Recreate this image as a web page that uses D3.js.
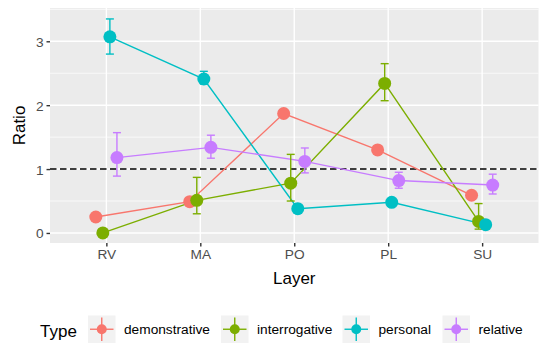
<!DOCTYPE html>
<html>
<head>
<meta charset="utf-8">
<script src="https://cdn.jsdelivr.net/npm/d3@7"></script>
<style>
  html, body { margin: 0; padding: 0; background: #fff; }
  svg { display: block; font-family: "Liberation Sans", Arial, sans-serif; }
</style>
</head>
<body>
<svg id="chart" width="548" height="343"></svg>
<script>
// Layers along the x axis
const layers = ["RV", "MA", "PO", "PL", "SU"];
// Pronoun types (legend order)
const types = ["demonstrative", "interrogative", "personal", "relative"];
const typeColors = ["#F8766D", "#7CAE00", "#00BFC4", "#C77CFF"];

// Mean ratio per layer, one array per type
const demonstrative = [0.25, 0.49, 1.87, 1.30, 0.59];
const interrogative = [0.00, 0.51, 0.78, 2.34, 0.18];
const personal      = [3.07, 2.41, 0.38, 0.48, 0.13];
const relative      = [1.18, 1.34, 1.12, 0.82, 0.75];

// Error bar bounds (null where no interval is shown)
const demonstrativeLow  = [null, null, null, null, null];
const demonstrativeHigh = [null, null, null, null, null];
const interrogativeLow  = [null, 0.30, 0.50, 2.07, 0.06];
const interrogativeHigh = [null, 0.87, 1.23, 2.65, 0.46];
const personalLow       = [2.80, 2.33, null, null, null];
const personalHigh      = [3.35, 2.53, null, null, null];
const relativeLow       = [0.89, 1.17, 0.94, 0.70, 0.61];
const relativeHigh      = [1.57, 1.53, 1.33, 0.95, 0.92];

const yTicks = [0, 1, 2, 3];
const yMinor = [0.5, 1.5, 2.5, 3.5];
const refLine = 1;

const series = [
  { type: types[0], color: typeColors[0], values: demonstrative, low: demonstrativeLow, high: demonstrativeHigh },
  { type: types[1], color: typeColors[1], values: interrogative, low: interrogativeLow, high: interrogativeHigh },
  { type: types[2], color: typeColors[2], values: personal,      low: personalLow,      high: personalHigh },
  { type: types[3], color: typeColors[3], values: relative,      low: relativeLow,      high: relativeHigh }
];

const svg = d3.select("#chart");
const panel = { left: 50, right: 538.5, top: 8, bottom: 243 };
const lw = 1.4;

// Discrete x positions with 0.6 unit padding on each side
const x = d3.scalePoint().domain(layers)
  .range([panel.left, panel.right]).padding(0.6);
const step = x.step();
const dodgeWidth = 0.3 * step;
const dodge = d3.scaleBand().domain(types).range([-dodgeWidth / 2, dodgeWidth / 2]);
const xd = (layer, type) => x(layer) + dodge(type) + dodge.bandwidth() / 2;

// y domain: data range plus 5% expansion
const yLo = 0.01, yHi = 3.354, pad = (yHi - yLo) * 0.05;
const y = d3.scaleLinear().domain([yLo - pad, yHi + pad]).range([panel.bottom, panel.top]);

// Panel background
svg.append("rect")
  .attr("x", panel.left).attr("y", panel.top)
  .attr("width", panel.right - panel.left).attr("height", panel.bottom - panel.top)
  .attr("fill", "#EBEBEB");

const grid = svg.append("g");
grid.selectAll("line.minor").data(yMinor.filter(v => y(v) >= panel.top)).join("line")
  .attr("x1", panel.left).attr("x2", panel.right)
  .attr("y1", d => y(d)).attr("y2", d => y(d))
  .attr("stroke", "#fff").attr("stroke-width", 0.7);
grid.selectAll("line.majy").data(yTicks).join("line")
  .attr("x1", panel.left).attr("x2", panel.right)
  .attr("y1", d => y(d)).attr("y2", d => y(d))
  .attr("stroke", "#fff").attr("stroke-width", lw);
grid.selectAll("line.majx").data(layers).join("line")
  .attr("x1", d => x(d)).attr("x2", d => x(d))
  .attr("y1", panel.top).attr("y2", panel.bottom)
  .attr("stroke", "#fff").attr("stroke-width", lw);

// Axes
const yAxis = d3.axisLeft(y).tickValues(yTicks).tickSize(3.5).tickPadding(3).tickFormat(d3.format("d"));
const xAxis = d3.axisBottom(x).tickSize(3.5).tickPadding(3);

const gy = svg.append("g").attr("transform", `translate(${panel.left},0)`).call(yAxis);
const gx = svg.append("g").attr("transform", `translate(0,${panel.bottom})`).call(xAxis);
[gx, gy].forEach(g => {
  g.select(".domain").remove();
  g.selectAll(".tick line").attr("stroke", "#333").attr("stroke-width", lw);
  g.selectAll(".tick text").attr("fill", "#4D4D4D").attr("font-size", 13.7)
    .attr("font-family", "Liberation Sans, Arial, sans-serif");
});
gy.selectAll(".tick text").attr("dy", "0.36em");

// Axis titles
svg.append("text").attr("x", (panel.left + panel.right) / 2).attr("y", 284)
  .attr("text-anchor", "middle").attr("font-size", 17).attr("fill", "#000").text("Layer");
svg.append("text").attr("transform", `translate(25,${(panel.top + panel.bottom) / 2}) rotate(-90)`)
  .attr("text-anchor", "middle").attr("font-size", 17).attr("fill", "#000").text("Ratio");

// Reference line at ratio 1
svg.append("line")
  .attr("x1", panel.left).attr("x2", panel.right)
  .attr("y1", y(refLine)).attr("y2", y(refLine))
  .attr("stroke", "#000").attr("stroke-width", lw).attr("stroke-dasharray", "6.5,3.5");

const marks = svg.append("g");
const line = d3.line();

// Connecting lines
series.forEach(s => {
  marks.append("path")
    .attr("d", line(layers.map((l, i) => [xd(l, s.type), y(s.values[i])])))
    .attr("fill", "none").attr("stroke", s.color).attr("stroke-width", lw);
});

// Error bars
const capHalf = 4;
series.forEach(s => {
  layers.forEach((l, i) => {
    if (s.low[i] == null) return;
    const cx = xd(l, s.type);
    const g = marks.append("g").attr("stroke", s.color).attr("stroke-width", lw);
    g.append("line").attr("x1", cx).attr("x2", cx).attr("y1", y(s.low[i])).attr("y2", y(s.high[i]));
    g.append("line").attr("x1", cx - capHalf).attr("x2", cx + capHalf).attr("y1", y(s.low[i])).attr("y2", y(s.low[i]));
    g.append("line").attr("x1", cx - capHalf).attr("x2", cx + capHalf).attr("y1", y(s.high[i])).attr("y2", y(s.high[i]));
  });
});

// Points
series.forEach(s => {
  marks.append("g").selectAll("circle").data(s.values).join("circle")
    .attr("cx", (d, i) => xd(layers[i], s.type))
    .attr("cy", d => y(d))
    .attr("r", 6.5).attr("fill", s.color);
});

// Legend
const legend = svg.append("g");
legend.append("text").attr("x", 40).attr("y", 336.5).attr("font-size", 17).attr("fill", "#000").text("Type");
const keyX = [88, 221, 342.5, 442.5];
const keySize = 27.5;
const keyTop = 315.5;
series.forEach((s, i) => {
  const g = legend.append("g").attr("transform", `translate(${keyX[i]},${keyTop})`);
  g.append("rect").attr("width", keySize).attr("height", keySize).attr("fill", "#F2F2F2");
  g.append("line").attr("x1", 2).attr("x2", keySize - 2).attr("y1", keySize / 2).attr("y2", keySize / 2)
    .attr("stroke", s.color).attr("stroke-width", lw);
  g.append("line").attr("x1", keySize / 2).attr("x2", keySize / 2).attr("y1", 2).attr("y2", keySize - 2)
    .attr("stroke", s.color).attr("stroke-width", lw);
  g.append("circle").attr("cx", keySize / 2).attr("cy", keySize / 2).attr("r", 5).attr("fill", s.color);
  legend.append("text").attr("x", keyX[i] + keySize + 8.5).attr("y", keyTop + keySize / 2)
    .attr("dy", "0.36em").attr("font-size", 13.7).attr("fill", "#000").text(s.type);
});
</script>
</body>
</html>
